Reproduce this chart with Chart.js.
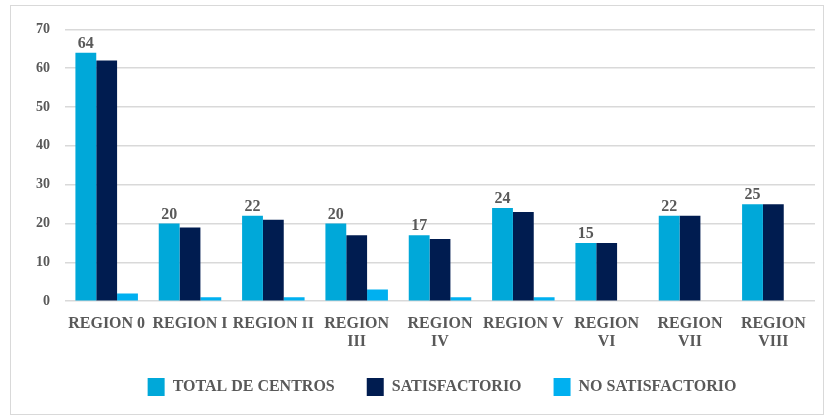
<!DOCTYPE html>
<html><head><meta charset="utf-8">
<script src="https://cdn.jsdelivr.net/npm/chart.js@4/dist/chart.umd.min.js"></script>
<style>
html,body{margin:0;padding:0;background:#fff;}
#frame{position:absolute;left:10px;top:5px;width:814px;height:410px;border:1px solid #d9d9d9;box-sizing:border-box;}
#wrap{position:absolute;left:0;top:0;width:812px;height:408px;}
</style></head><body>
<div id="frame"><div id="wrap"><canvas id="c"></canvas></div></div>
<script>
const categories = [["REGION 0"],["REGION I"],["REGION II"],["REGION","III"],["REGION","IV"],["REGION V"],["REGION","VI"],["REGION","VII"],["REGION","VIII"]];
const totalCentros = [64,20,22,20,17,24,15,22,25];
const satisfactorio = [62,19,21,17,16,23,15,22,25];
const noSatisfactorio = [2,1,1,3,1,1,0,0,0];
const yTicks = [0,10,20,30,40,50,60,70];

const FONT = "'Liberation Serif','Times New Roman',serif";
const GRAY = '#595959';

const labelPlugin = {
  id:'lbl',
  afterDatasetsDraw(chart){
    const ctx = chart.ctx;
    const meta = chart.getDatasetMeta(0);
    ctx.save();
    ctx.font = 'bold 16px '+FONT;
    ctx.fillStyle = GRAY;
    ctx.textAlign='center';
    ctx.textBaseline='bottom';
    meta.data.forEach((b,i)=>{
      ctx.fillText(String(totalCentros[i]), b.x, b.y-1);
    });
    ctx.restore();
  }
};

const LEG_UP = 10, LEG_RIGHT = 24;
const legendTweak = {
  id:'legendTweak',
  beforeLayout(chart){
    const lg = chart.legend;
    if(lg && !lg._patched){
      const f = lg.fit.bind(lg);
      lg.fit = function(){ f(); this.height -= LEG_UP; };
      lg._patched = true;
    }
  },
  afterLayout(chart){
    const lg = chart.legend;
    if(lg){ lg.top -= LEG_UP; lg.left += LEG_RIGHT; lg.right += LEG_RIGHT; }
  }
};

new Chart(document.getElementById('c'),{
  type:'bar',
  data:{
    labels:categories,
    datasets:[
      {label:'TOTAL DE CENTROS',data:totalCentros,backgroundColor:'#00A8D9'},
      {label:'SATISFACTORIO',data:satisfactorio,backgroundColor:'#001C50'},
      {label:'NO SATISFACTORIO',data:noSatisfactorio,backgroundColor:'#00B0F0'}
    ]
  },
  options:{
    responsive:true,maintainAspectRatio:false,animation:false,
    layout:{padding:{left:10,right:8,top:20,bottom:8}},
    datasets:{bar:{categoryPercentage:0.75,barPercentage:1.0}},
    plugins:{
      legend:{position:'bottom',labels:{font:{family:FONT,size:16,weight:'bold'},color:GRAY,boxWidth:17,boxHeight:18,padding:32}},
      tooltip:{enabled:false}
    },
    scales:{
      x:{grid:{display:false},border:{display:false},
         ticks:{font:{family:FONT,size:16,weight:'bold',lineHeight:1.15},color:GRAY,maxRotation:0,autoSkip:false,padding:5}},
      y:{min:0,max:70,afterBuildTicks(ax){ax.ticks=yTicks.map(v=>({value:v}));},
         grid:{color:'#d9d9d9',lineWidth:1.5,drawTicks:false},border:{display:false},
         ticks:{font:{family:FONT,size:14,weight:'bold'},color:GRAY,padding:15}}
    }
  },
  plugins:[labelPlugin, legendTweak]
});
</script>
</body></html>
